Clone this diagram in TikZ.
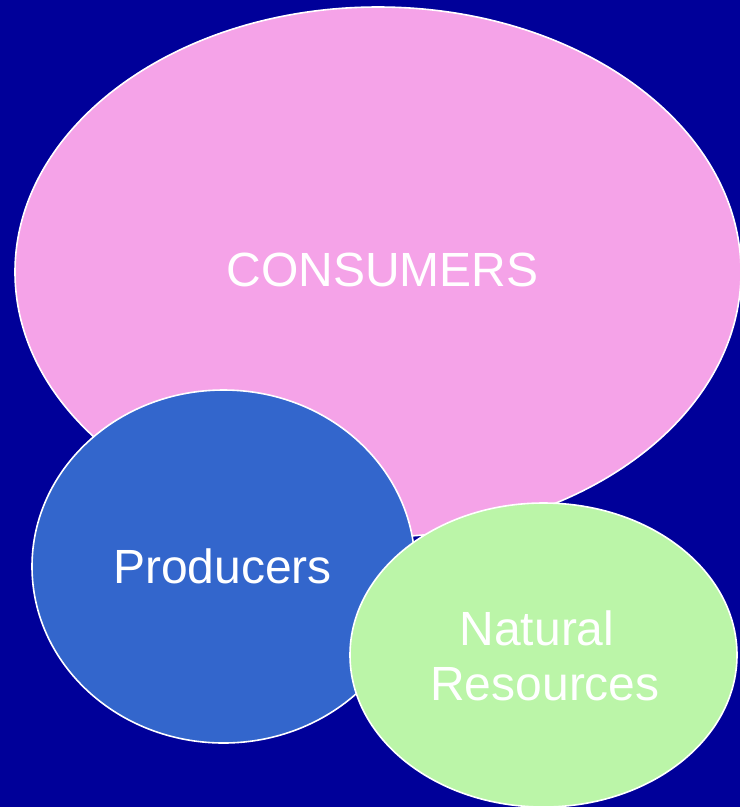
\documentclass[tikz,border=0pt]{standalone}
\usepackage{fontspec}
\setmainfont{Liberation Sans}
\usetikzlibrary{shapes.geometric}
\definecolor{bgblue}{HTML}{000099}
\definecolor{consumerpink}{HTML}{F5A3E8}
\definecolor{producerblue}{HTML}{3366CC}
\definecolor{resourcegreen}{HTML}{BBF5A8}
\tikzset{
  blob/.style={ellipse, draw=white, line width=1.6pt, inner sep=0pt},
  label/.style={text=white, font=\fontsize{48}{55}\selectfont, inner sep=0pt, align=center}
}
\begin{document}
\begin{tikzpicture}[x=1pt,y=-1pt]
  \fill[bgblue] (0,0) rectangle (740,807);
  \useasboundingbox (0,0) rectangle (740,807);
  % overlapping groups
  \node[blob, fill=consumerpink, minimum width=726pt, minimum height=530pt] (consumers) at (378,272) {};
  \node[blob, fill=producerblue, minimum width=383pt, minimum height=353pt] (producers) at (223.5,566.5) {};
  \node[blob, fill=resourcegreen, minimum width=387pt, minimum height=304pt] (resources) at (543.5,655) {};
  % labels
  \node[label, anchor=base] (tconsumers) at (382.5,286) {CONSUMERS};
  \node[label, anchor=base] (tproducers) at (222.5,583) {Producers};
  \node[label, anchor=base] (tresources) at (545,700) {\hspace*{-16pt}Natural\\Resources};
\end{tikzpicture}
\end{document}
